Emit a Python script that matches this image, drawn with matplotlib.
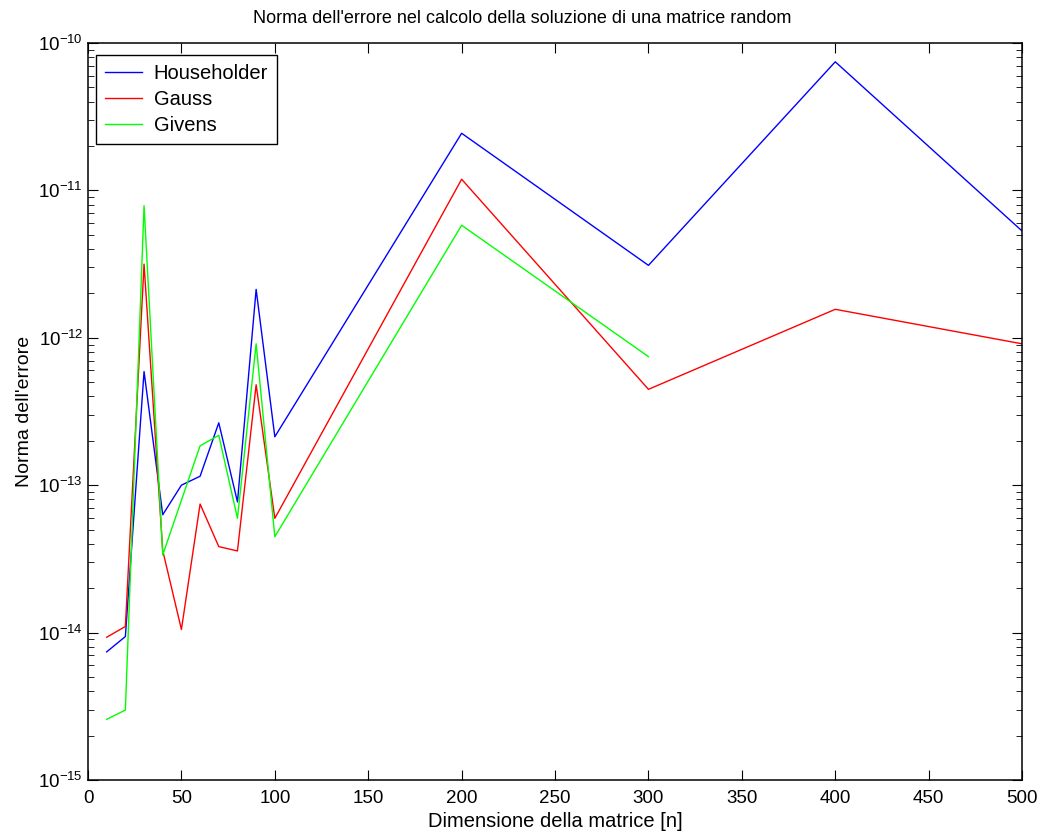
import matplotlib
matplotlib.use("Agg")
import matplotlib.pyplot as plt
from matplotlib.ticker import LogLocator, NullFormatter, MultipleLocator

plt.rcParams["font.family"] = ["Liberation Sans", "DejaVu Sans"]
plt.rcParams["mathtext.fontset"] = "custom"
plt.rcParams["mathtext.rm"] = "Liberation Sans"

# dimensione della matrice
n_full = [10, 20, 30, 40, 50, 60, 70, 80, 90, 100, 200, 300, 400, 500]
n_givens = [10, 20, 30, 40, 50, 60, 70, 80, 90, 100, 200, 300]

householder = [7.4e-15, 9.4e-15, 5.9e-13, 6.3e-14, 1.0e-13, 1.15e-13, 2.65e-13,
               7.7e-14, 2.13e-12, 2.13e-13, 2.44e-11, 3.1e-12, 7.45e-11, 5.3e-12]
gauss = [9.3e-15, 1.1e-14, 3.16e-12, 3.6e-14, 1.05e-14, 7.45e-14, 3.83e-14,
         3.58e-14, 4.8e-13, 5.96e-14, 1.19e-11, 4.47e-13, 1.56e-12, 9.1e-13]
givens = [2.58e-15, 2.98e-15, 7.87e-12, 3.36e-14, 7.9e-14, 1.85e-13, 2.18e-13,
          5.96e-14, 9.1e-13, 4.47e-14, 5.8e-12, 7.45e-13]

y_ticks = [1e-15, 1e-14, 1e-13, 1e-12, 1e-11, 1e-10]

fig = plt.figure(figsize=(10.44, 8.36), dpi=100)
ax = fig.add_axes([0.0843, 0.067, 0.8947, 0.8816])

ax.plot(n_full, householder, color="blue", linewidth=1, label="Householder")
ax.plot(n_full, gauss, color="red", linewidth=1, label="Gauss")
ax.plot(n_givens, givens, color="#00ff00", linewidth=1, label="Givens")

ax.set_yscale("log")
ax.set_xlim(0, 500)
ax.set_ylim(1e-15, 1e-10)
ax.xaxis.set_major_locator(MultipleLocator(50))
ax.set_yticks(y_ticks)
ax.yaxis.set_minor_locator(LogLocator(base=10, subs=range(2, 10), numticks=20))
ax.yaxis.set_minor_formatter(NullFormatter())

for s in ax.spines.values():
    s.set_linewidth(1.1)
ax.tick_params(which="both", direction="in", top=True, right=True, labelsize=13.5)
ax.tick_params(which="major", length=7)
ax.tick_params(which="minor", length=4)
ax.tick_params(axis="x", pad=7)

fig.text(0.5, 0.978, "Norma dell'errore nel calcolo della soluzione di una matrice random",
         ha="center", va="center", fontsize=13)
ax.set_xlabel("Dimensione della matrice [n]", fontsize=14.5, labelpad=4)
ax.set_ylabel("Norma dell'errore", fontsize=14)

leg = ax.legend(loc="upper left", bbox_to_anchor=(0.009, 0.984), borderaxespad=0,
                fancybox=False, edgecolor="black", fontsize=14.5, framealpha=1,
                handlelength=1.8, handletextpad=0.6, labelspacing=0.35, borderpad=0.45)
leg.get_frame().set_linewidth(1)

fig.savefig("out.png", dpi=100)
